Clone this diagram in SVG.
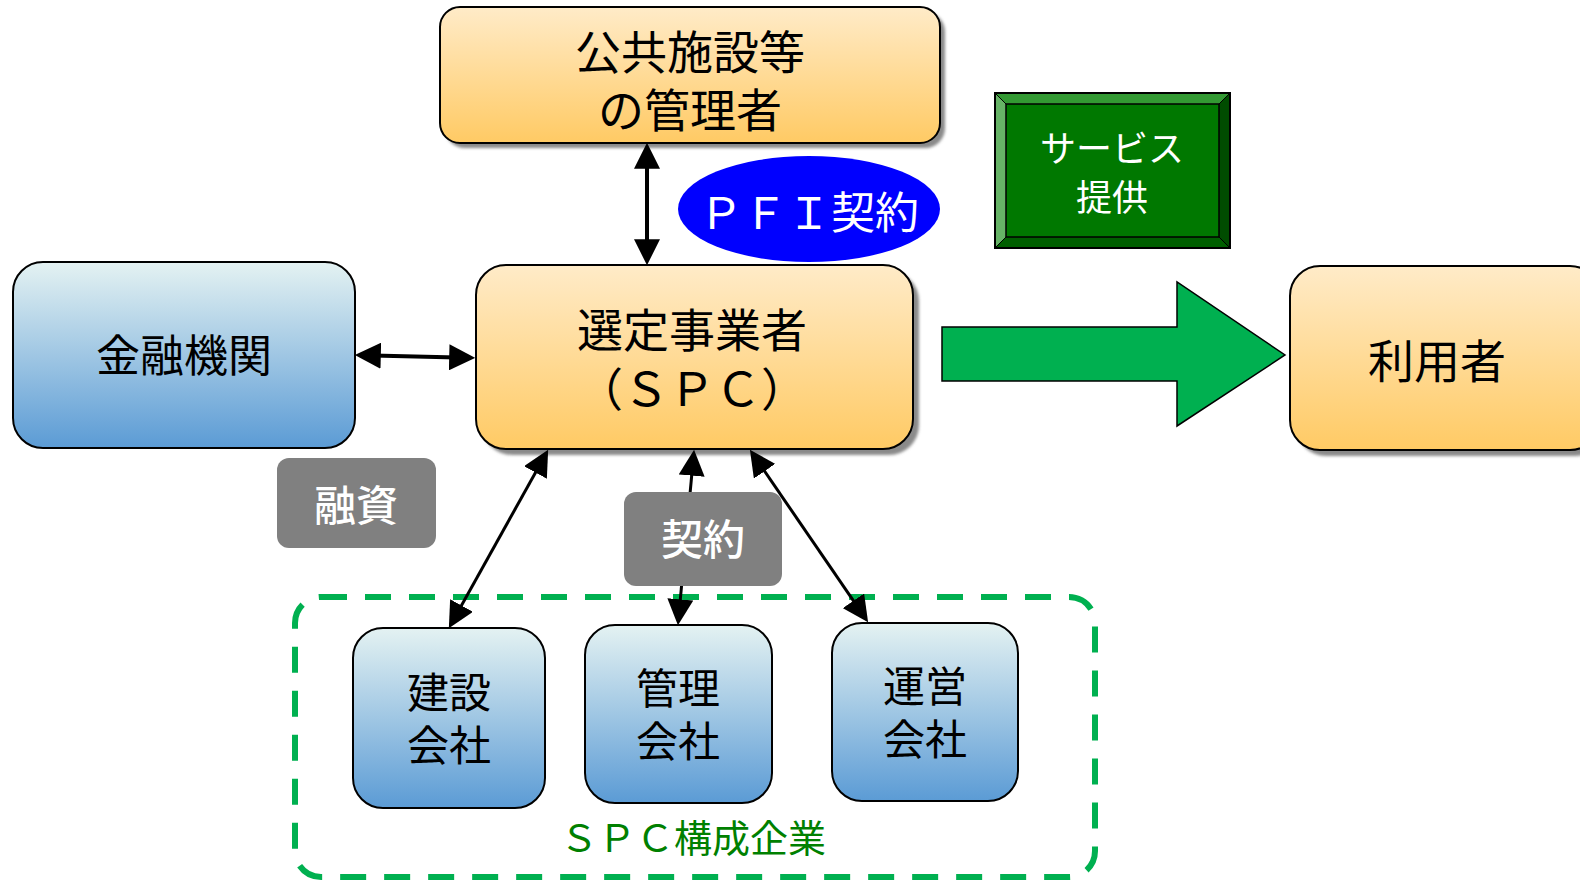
<svg xmlns="http://www.w3.org/2000/svg" width="1580" height="883" viewBox="0 0 1580 883">
<defs>
<linearGradient id="gOrange" x1="0" y1="0" x2="0" y2="1"><stop offset="0" stop-color="#ffebc8"/><stop offset="1" stop-color="#ffca64"/></linearGradient>
<linearGradient id="gBlue" x1="0" y1="0" x2="0" y2="1"><stop offset="0" stop-color="#e4f2f2"/><stop offset="1" stop-color="#5b9bd5"/></linearGradient>
<filter id="sh" x="-10%" y="-10%" width="130%" height="130%"><feGaussianBlur stdDeviation="1.5"/></filter>
<marker id="ah" viewBox="0 0 10 10" refX="3" refY="5" markerWidth="26" markerHeight="26" markerUnits="userSpaceOnUse" orient="auto-start-reverse"><path d="M0,0 L10,5 L0,10 z" fill="#000"/></marker>
<style>
.jp{font-family:"Noto Sans CJK JP","Noto Sans CJK SC",sans-serif;text-anchor:middle}
.box{stroke:#000;stroke-width:2}
.shadow{fill:#8a8a8a;filter:url(#sh)}
.t46{font-size:46px;fill:#000}
.t42{font-size:42px;fill:#000}
.wl{font-size:42px;fill:#fff;font-weight:500}
.conn{stroke:#000;fill:none}
.lbl{fill:#808080}
</style>
</defs>
<rect width="1580" height="883" fill="#fff"/>

<g id="spc-group-frame">
<rect x="295" y="597" width="800" height="280" rx="26" fill="none" stroke="#00b050" stroke-width="6" stroke-dasharray="26 18"/>
<text class="jp" x="693" y="852" font-size="38" fill="#008000">ＳＰＣ構成企業</text>
</g>

<g id="public-manager">
<rect class="shadow" x="445" y="12" width="500" height="136" rx="20"/>
<rect class="box" x="440" y="7" width="500" height="136" rx="20" fill="url(#gOrange)"/>
<text class="jp t46" x="690" y="69">公共施設等</text>
<text class="jp t46" x="690" y="127">の管理者</text>
</g>

<g id="pfi-contract">
<ellipse cx="809" cy="209" rx="131" ry="53" fill="#0000ff"/>
<text class="jp" x="809" y="229" font-size="44" fill="#fff">ＰＦＩ契約</text>
</g>

<g id="service">
<rect x="995" y="93" width="235" height="155" fill="#007800" stroke="#000" stroke-width="2"/>
<polygon points="995,93 1230,93 1219,104 1006,104" fill="#339933"/>
<polygon points="995,93 1006,104 1006,237 995,248" fill="#66b366"/>
<polygon points="1230,93 1230,248 1219,237 1219,104" fill="#004c00"/>
<polygon points="995,248 1006,237 1219,237 1230,248" fill="#005f00"/>
<rect x="1006" y="104" width="213" height="133" fill="#007800" stroke="#000" stroke-width="1.5"/>
<rect x="995" y="93" width="235" height="155" fill="none" stroke="#000" stroke-width="2"/>
<line x1="995" y1="93" x2="1006" y2="104" stroke="#000" stroke-width="1"/>
<line x1="1230" y1="93" x2="1219" y2="104" stroke="#000" stroke-width="1"/>
<line x1="995" y1="248" x2="1006" y2="237" stroke="#000" stroke-width="1"/>
<line x1="1230" y1="248" x2="1219" y2="237" stroke="#000" stroke-width="1"/>
<text class="jp" x="1112" y="162" font-size="36" fill="#fff">サービス</text>
<text class="jp" x="1112" y="211" font-size="36" fill="#fff">提供</text>
</g>

<g id="finance">
<rect class="box" x="13" y="262" width="342" height="186" rx="30" fill="url(#gBlue)"/>
<text class="jp" x="184" y="372" font-size="44" fill="#000">金融機関</text>
</g>

<g id="spc">
<rect class="shadow" x="482" y="271" width="437" height="184" rx="30"/>
<rect class="box" x="476" y="265" width="437" height="184" rx="30" fill="url(#gOrange)"/>
<text class="jp t46" x="692" y="347">選定事業者</text>
<text class="jp t46" x="692" y="406">（ＳＰＣ）</text>
</g>

<g id="service-arrow">
<polygon points="942,327 1177,327 1177,282 1285,355 1177,426 1177,381 942,381" fill="#00b050" stroke="#000" stroke-width="1.5"/>
</g>

<g id="user">
<rect class="shadow" x="1296" y="272" width="310" height="184" rx="30"/>
<rect class="box" x="1290" y="266" width="310" height="184" rx="30" fill="url(#gOrange)"/>
<text class="jp t46" x="1437" y="378">利用者</text>
</g>

<g id="construction">
<rect class="box" x="353" y="628" width="192" height="180" rx="30" fill="url(#gBlue)"/>
<text class="jp t42" x="449" y="708">建設</text>
<text class="jp t42" x="449" y="761">会社</text>
</g>

<g id="management">
<rect class="box" x="585" y="625" width="187" height="178" rx="30" fill="url(#gBlue)"/>
<text class="jp t42" x="678" y="704">管理</text>
<text class="jp t42" x="678" y="757">会社</text>
</g>

<g id="operation">
<rect class="box" x="832" y="623" width="186" height="178" rx="30" fill="url(#gBlue)"/>
<text class="jp t42" x="925" y="702">運営</text>
<text class="jp t42" x="925" y="755">会社</text>
</g>

<g id="connectors">
<line class="conn" x1="647" y1="161" x2="647" y2="247" stroke-width="4" marker-start="url(#ah)" marker-end="url(#ah)"/>
<line class="conn" x1="373" y1="355.5" x2="457" y2="357.5" stroke-width="4" marker-start="url(#ah)" marker-end="url(#ah)"/>
<line class="conn" x1="539.3" y1="465.7" x2="457.7" y2="612.3" stroke-width="3" marker-start="url(#ah)" marker-end="url(#ah)"/>
<line class="conn" x1="692.4" y1="467.9" x2="679.6" y2="607.1" stroke-width="3" marker-start="url(#ah)" marker-end="url(#ah)"/>
<line class="conn" x1="760.2" y1="464.8" x2="857.8" y2="607.2" stroke-width="3" marker-start="url(#ah)" marker-end="url(#ah)"/>
</g>

<g id="label-finance">
<rect class="lbl" x="277" y="458" width="159" height="90" rx="12"/>
<text class="jp wl" x="356" y="521">融資</text>
</g>

<g id="label-contract">
<rect class="lbl" x="624" y="492" width="158" height="94" rx="12"/>
<text class="jp wl" x="703" y="555">契約</text>
</g>
</svg>
